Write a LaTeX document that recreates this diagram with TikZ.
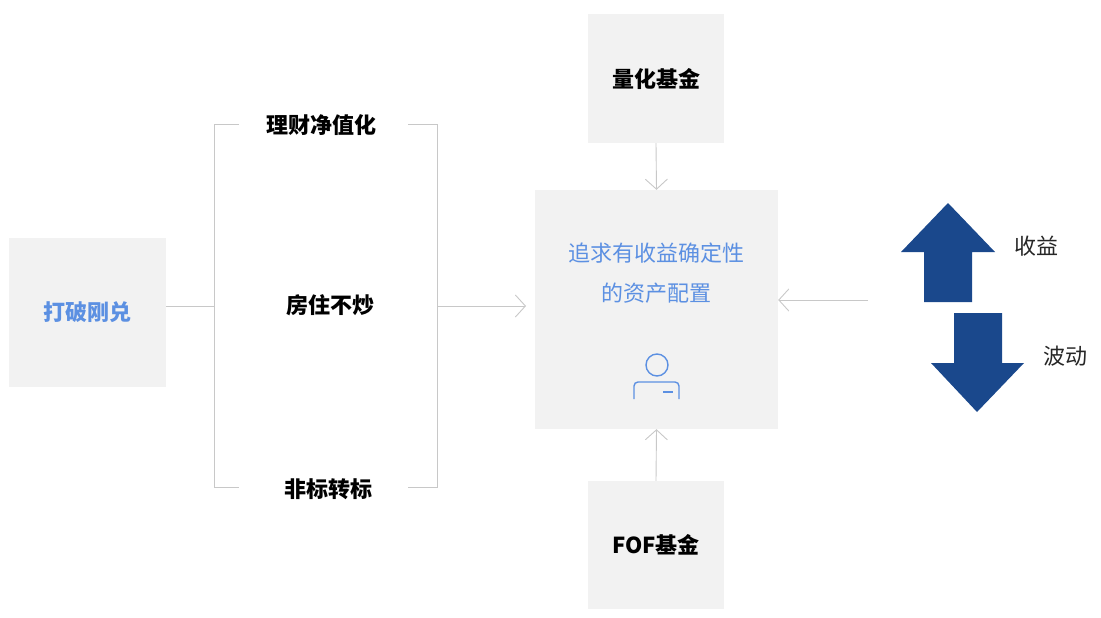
\documentclass[tikz,border=0pt]{standalone}
\usepackage{fontspec}
\newfontfamily\cjk{Noto Sans CJK SC}
\usetikzlibrary{arrows.meta}
\definecolor{boxgrey}{RGB}{242,242,242}
\definecolor{linegrey}{RGB}{200,200,200}
\definecolor{softblue}{RGB}{92,144,226}
\definecolor{navy}{RGB}{26,72,140}
\tikzset{
  greybox/.style={fill=boxgrey, inner sep=0pt},
  lbl/.style={font=\cjk\bfseries\fontsize{22}{26}\selectfont, inner sep=1pt},
  link/.style={draw=linegrey, line width=0.9pt},
  tip/.style={link, -{Straight Barb[length=10pt,width=22pt,line width=0.9pt]}}
}

\begin{document}
\begin{tikzpicture}[x=1pt, y=-1pt]
    \useasboundingbox (0,0) rectangle (1101,618);

    \node[greybox, minimum width=157pt, minimum height=149pt, lbl, text=softblue] (brk) at (87.5,312.5) {打破刚兑};
    \node[greybox, minimum width=136pt, minimum height=129pt, lbl] (quant) at (656,78.5) {量化基金};
    \node[greybox, minimum width=243pt, minimum height=239pt] (goal) at (656.5,309.5) {};
    \node[greybox, minimum width=136pt, minimum height=128pt, lbl] (fof) at (656,545) {FOF基金};

    \node[lbl] (wm) at (321,125) {理财净值化};
    \node[lbl] (mid) at (330,305) {房住不炒};
    \node[lbl] (nst) at (328,489) {非标转标};

    % bracket
    \draw[link] (239,124) -- (214,124) -- (214,487) -- (239,487);
    \draw[link] (408,124) -- (437,124) -- (437,487) -- (408,487);
    \coordinate (lj) at (214,306);
    \coordinate (rj) at (437,306);
    \coordinate (gin) at (526,306);
    \coordinate (rin) at (868,300);
    \draw[link] (brk.east |- lj) -- (lj);
    \draw[tip] (rj) -- (gin);
    \draw[tip] (quant.south) -- (goal.north);
    \draw[tip] (fof.north) -- (goal.south);
    \draw[tip] (rin) -- (goal.east |- rin);

    \node[font=\cjk\fontsize{22}{40}\selectfont, text=softblue, align=center] (aim) at (656,273) {追求有收益确定性\\的资产配置};

    % icon
    \draw[softblue, line width=1.4pt] (657,365) circle (11);
    \draw[softblue, line width=1.4pt, rounded corners=4pt] (634,399) -- (634,382) -- (679,382) -- (679,399);
    \draw[softblue, line width=1.4pt] (663,392) -- (673,392);

    % up / down
    \fill[navy] (924,302) -- (924,252) -- (901,252) -- (948,203) -- (995,252) -- (972,252) -- (972,302) -- cycle;
    \fill[navy] (954,313) -- (1002,313) -- (1002,363) -- (1024,363) -- (977,412) -- (931,363) -- (954,363) -- cycle;
    \node[font=\cjk\fontsize{22}{26}\selectfont, text=black!85] (gain) at (1036,246) {收益};
    \node[font=\cjk\fontsize{22}{26}\selectfont, text=black!85] (vol) at (1065,356) {波动};
\end{tikzpicture}
\end{document}
